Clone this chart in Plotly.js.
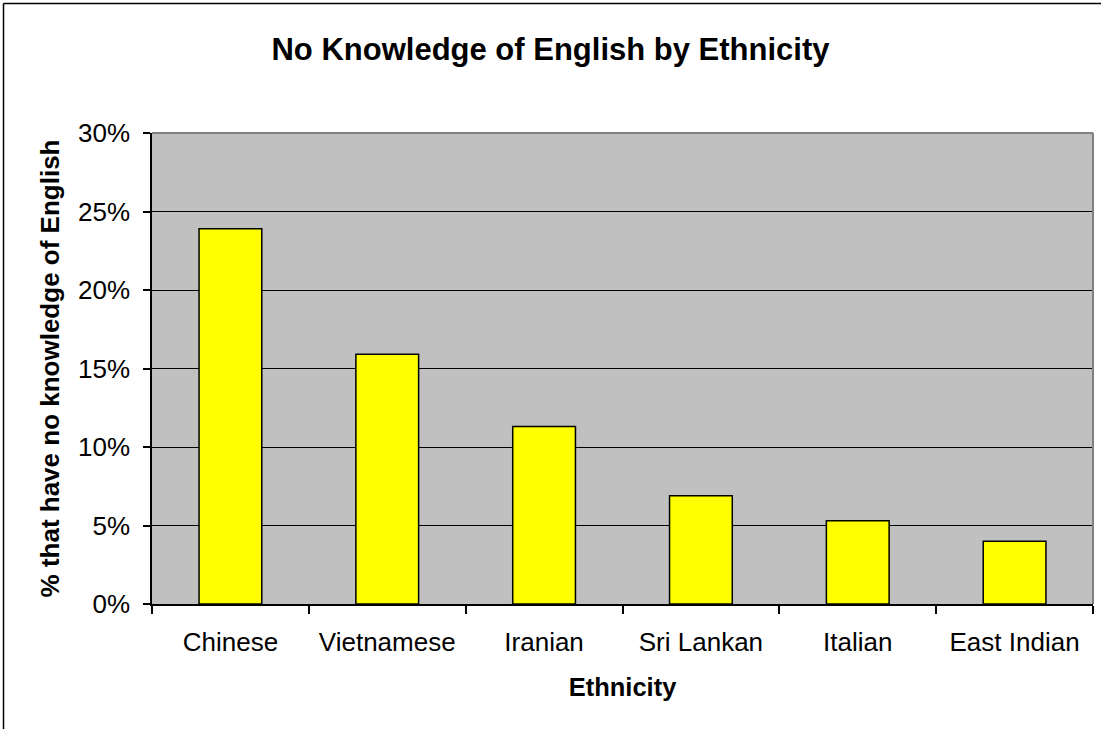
<!DOCTYPE html>
<html>
<head>
<meta charset="utf-8">
<script src="https://cdn.plot.ly/plotly-3.0.1.min.js"></script>
<style>
  html, body { margin: 0; padding: 0; background: #ffffff; }
  #chart { width: 1101px; height: 729px; }
</style>
</head>
<body>
<div id="chart"></div>
<script>
const categories = ["Chinese", "Vietnamese", "Iranian", "Sri Lankan", "Italian", "East Indian"];
const shareNoEnglish = [0.239, 0.159, 0.113, 0.069, 0.053, 0.040];
const yTickValues = [0, 0.05, 0.10, 0.15, 0.20, 0.25, 0.30];

const W = 1101, H = 729;
const mL = 152, mR = 8, mT = 133, mB = 125;
const pw = W - mL - mR, ph = H - mT - mB;
const px = (x) => (x - mL) / pw;
const py = (y) => 1 - (y - mT) / ph;

const font = "Liberation Sans, Arial, sans-serif";

const trace = {
  type: "bar",
  x: categories,
  y: shareNoEnglish,
  marker: { color: "#FFFF00", line: { color: "#000000", width: 1.5 } },
  hoverinfo: "x+y"
};

const layout = {
  width: W, height: H,
  margin: { l: mL, r: mR, t: mT, b: mB, pad: 0 },
  paper_bgcolor: "#ffffff",
  plot_bgcolor: "#C0C0C0",
  bargap: 0.6,
  showlegend: false,
  title: {
    text: "<b>No Knowledge of English by Ethnicity</b>",
    font: { family: font, size: 31, color: "#000000" },
    x: 0.5, xref: "container", xanchor: "center", y: 1 - 49 / H, yref: "container", yanchor: "middle"
  },
  xaxis: {
    type: "category",
    showgrid: false,
    showline: true, linecolor: "#000000", linewidth: 1.5,
    ticks: "outside", tickson: "boundaries", ticklen: 8, tickcolor: "#000000", tickwidth: 1.5,
    ticklabelstandoff: 14,
    tickfont: { family: font, size: 26, color: "#000000" },
    title: { text: "<b>Ethnicity</b>", font: { family: font, size: 25.5, color: "#000000" }, standoff: 22 },
    fixedrange: true
  },
  yaxis: {
    range: [0, 0.30],
    tickvals: yTickValues,
    tickformat: ".0%",
    showgrid: true, gridcolor: "#000000", gridwidth: 1.2,
    zeroline: false,
    showline: true, linecolor: "#000000", linewidth: 1.5,
    ticks: "outside", ticklen: 7, tickcolor: "#000000", tickwidth: 1.5,
    ticklabelstandoff: 8,
    tickfont: { family: font, size: 26, color: "#000000" },
    title: { text: "<b>% that have no knowledge of English</b>", font: { family: font, size: 26, color: "#000000" }, standoff: 11 },
    fixedrange: true
  },
  shapes: [
    { type: "line", xref: "paper", yref: "paper", x0: 0, x1: 1, y0: 1, y1: 1, line: { color: "#808080", width: 2 } },
    { type: "line", xref: "paper", yref: "paper", x0: 1, x1: 1, y0: 0, y1: 1, line: { color: "#808080", width: 2 } },
    { type: "line", xref: "paper", yref: "paper", x0: px(3.5), x1: px(1101), y0: py(3.5), y1: py(3.5), line: { color: "#000000", width: 1.5 } },
    { type: "line", xref: "paper", yref: "paper", x0: px(3.5), x1: px(3.5), y0: py(3.5), y1: py(729), line: { color: "#000000", width: 1.5 } }
  ]
};

Plotly.newPlot("chart", [trace], layout, { displayModeBar: false });
</script>
</body>
</html>
